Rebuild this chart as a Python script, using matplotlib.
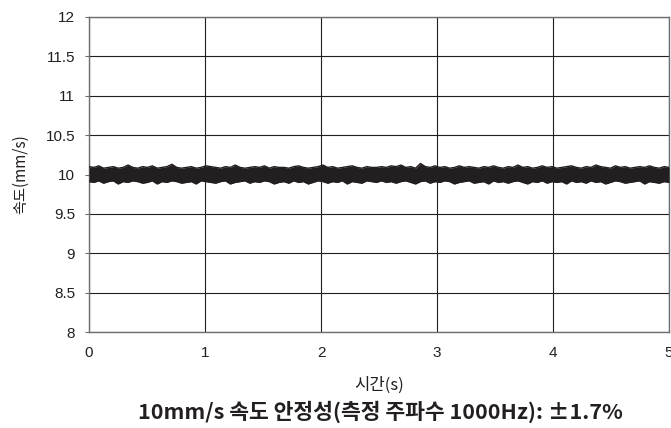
import numpy as np
import matplotlib.pyplot as plt

# Envelope of the measured speed band, read off the picture
# (hundredths of mm/s above / below 10 mm/s, one pair every ~0.042 s)
upper = [10, 9, 11, 8, 9, 10, 8, 9, 12, 9, 8, 10, 9, 11, 8, 9, 10, 13, 9, 8,
         9, 10, 8, 9, 11, 10, 9, 8, 10, 9, 12, 9, 8, 9, 10, 9, 11, 8, 10, 9,
         9, 8, 10, 11, 9, 8, 9, 10, 12, 9, 10, 8, 9, 10, 11, 9, 8, 10, 9, 9,
         10, 9, 11, 10, 12, 9, 10, 8, 14, 10, 9, 11, 9, 10, 8, 9, 11, 9, 10, 9,
         8, 10, 9, 11, 9, 8, 10, 9, 12, 9, 10, 8, 9, 11, 9, 10, 8, 9, 10, 11,
         9, 8, 10, 9, 12, 10, 9, 8, 11, 9, 10, 8, 9, 10, 9, 11, 9, 8, 10, 9]
lower = [9, 10, 8, 11, 9, 8, 12, 9, 10, 8, 9, 11, 10, 8, 12, 9, 10, 8, 9, 11,
         10, 9, 12, 8, 9, 10, 11, 9, 8, 12, 10, 9, 8, 11, 9, 10, 8, 9, 12, 10,
         9, 11, 8, 10, 9, 12, 10, 8, 9, 11, 9, 10, 8, 12, 9, 10, 11, 8, 9, 10,
         8, 10, 9, 11, 9, 8, 10, 12, 9, 8, 11, 9, 10, 8, 9, 12, 10, 9, 8, 11,
         10, 9, 12, 8, 10, 9, 11, 9, 8, 10, 12, 9, 10, 8, 11, 9, 10, 9, 12, 8,
         10, 9, 11, 8, 10, 9, 12, 10, 8, 9, 11, 10, 9, 8, 12, 9, 10, 11, 9, 10]

xticks = [0, 1, 2, 3, 4, 5]
yticks = [8, 8.5, 9, 9.5, 10, 10.5, 11, 11.5, 12]
ytick_labels = ['8', '8.5', '9', '9.5', '10', '10.5', '11', '11.5', '12']

KR = ['Noto Sans CJK KR', 'DejaVu Sans']


def main():
    hi = 10 + np.array(upper) / 100
    lo = 10 - np.array(lower) / 100
    t = np.linspace(0, 5, len(hi))

    fig = plt.figure(figsize=(6.71, 4.28), dpi=100)
    ax = fig.add_axes([89 / 671, 96 / 428, 580 / 671, 315 / 428])

    # solid noisy band with ragged edges
    ax.fill_between(t, lo, hi, color='#231f20', linewidth=0, zorder=3)
    ax.plot(t, hi, color='#231f20', linewidth=1.0, zorder=3)
    ax.plot(t, lo, color='#231f20', linewidth=1.0, zorder=3)

    ax.set_xlim(0, 5)
    ax.set_ylim(8, 12)
    ax.set_xticks(xticks)
    ax.set_yticks(yticks)
    ax.set_yticklabels(ytick_labels)
    ax.grid(color='#231f20', linewidth=0.8)
    ax.set_axisbelow(True)
    ax.tick_params(axis='y', length=3, width=0.8, pad=7, color='#6d6e71')
    ax.tick_params(axis='x', length=0, pad=10)
    ax.tick_params(labelsize=11, labelcolor='#231f20')
    for lab in ax.get_xticklabels() + ax.get_yticklabels():
        lab.set_fontfamily('Liberation Sans')
    for sp in ax.spines.values():
        sp.set_color('#6d6e71')
        sp.set_linewidth(1.0)

    ax.set_xlabel('시간(s)', family=KR, fontsize=12, labelpad=12, color='#231f20')
    ax.set_ylabel('속도(mm/s)', family=KR, fontsize=11, labelpad=12, color='#231f20')

    fig.text(380 / 671, 1 - 412 / 428, '10mm/s 속도 안정성(측정 주파수 1000Hz): ±1.7%',
             family=KR, fontsize=15.5, fontweight='bold',
             ha='center', va='center', color='#231f20')

    fig.savefig('out.png', dpi=100)


if __name__ == '__main__':
    main()
